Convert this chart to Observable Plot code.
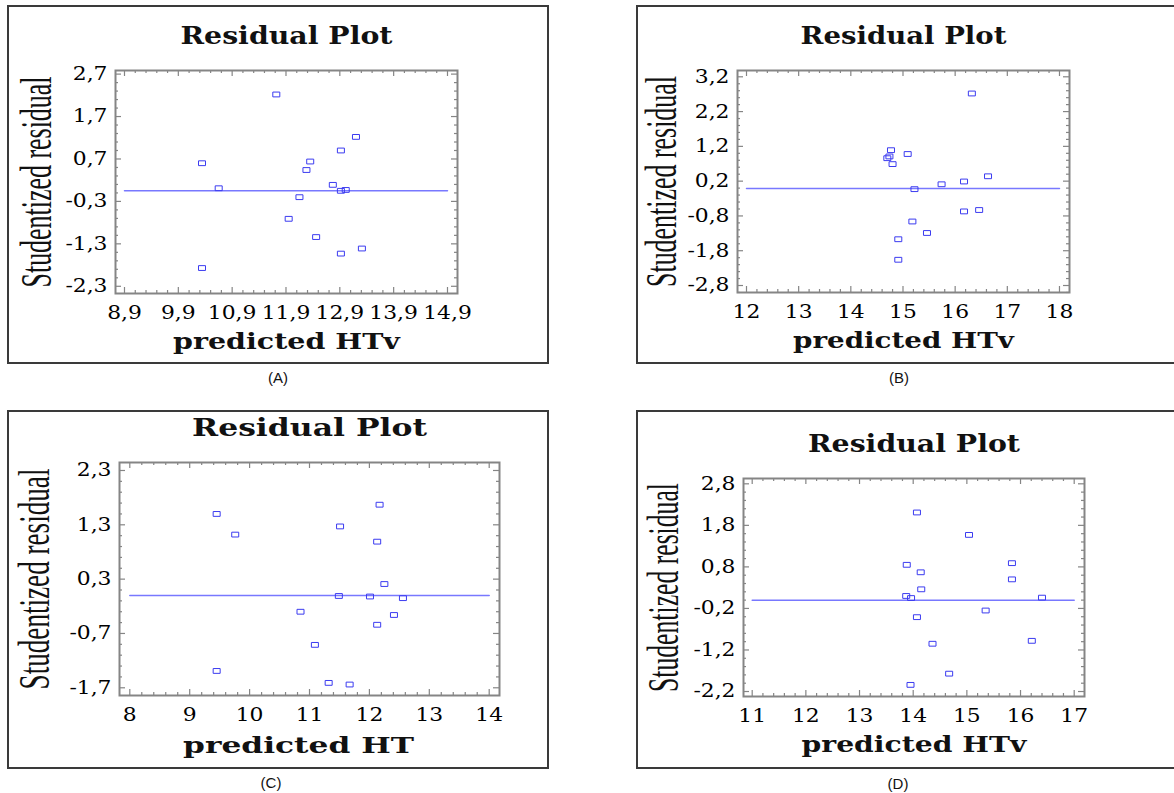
<!DOCTYPE html>
<html><head><meta charset="utf-8">
<script src="https://cdn.jsdelivr.net/npm/d3@7"></script>
<script src="https://cdn.jsdelivr.net/npm/@observablehq/plot@0.6"></script>
<style>
html,body{margin:0;padding:0;background:#fff;width:1174px;height:793px;overflow:hidden;position:relative}
.box{position:absolute;border:2px solid #3a3a3a;box-sizing:border-box}
.cap{position:absolute;font-family:"Liberation Sans",Arial,sans-serif;font-size:15px;color:#111;transform:translate(-50%,-50%);white-space:nowrap}
svg.panel{position:absolute;overflow:visible}
</style></head><body>
<script>
// ---------- data ----------
const titles = ["Residual Plot", "Residual Plot", "Residual Plot", "Residual Plot"];
const yLabel = "Studentized residual";
const xLabels = ["predicted HTv", "predicted HTv", "predicted HT", "predicted HTv"];
const captions = ["(A)", "(B)", "(C)", "(D)"];

const aX = [11.72, 13.20, 12.92, 10.34, 12.35, 12.28, 10.65, 12.77, 12.92, 13.01, 12.15, 11.95, 12.46, 13.31, 12.92, 10.34];
const aY = [2.22, 1.22, 0.90, 0.60, 0.64, 0.44, 0.01, 0.09, -0.05, -0.03, -0.20, -0.71, -1.14, -1.41, -1.53, -1.87];
const bX = [16.32, 14.77, 15.09, 14.74, 14.70, 14.80, 16.63, 16.17, 15.74, 15.22, 16.17, 16.46, 15.18, 15.46, 14.91, 14.91];
const bY = [2.72, 1.09, 0.98, 0.91, 0.86, 0.69, 0.34, 0.19, 0.11, -0.03, -0.67, -0.63, -0.96, -1.29, -1.47, -2.06];
const cX = [12.17, 9.45, 11.51, 9.76, 12.13, 12.25, 11.49, 12.01, 12.56, 10.85, 12.41, 12.13, 11.09, 9.45, 11.32, 11.67];
const cY = [1.67, 1.50, 1.27, 1.12, 0.99, 0.21, -0.01, -0.02, -0.05, -0.30, -0.36, -0.54, -0.91, -1.39, -1.61, -1.64];
const dX = [14.07, 15.04, 13.88, 15.84, 14.14, 15.84, 14.15, 13.87, 13.96, 16.40, 15.35, 14.07, 16.21, 14.36, 14.67, 13.95];
const dY = [2.11, 1.57, 0.85, 0.89, 0.67, 0.50, 0.26, 0.10, 0.05, 0.06, -0.25, -0.41, -0.98, -1.05, -1.77, -2.04];

const lineAX = [8.9, 14.9], lineAY = [-0.05, -0.05];
const lineBX = [12, 18],    lineBY = [-0.01, -0.01];
const lineCX = [8, 14],     lineCY = [0, 0];
const lineDX = [11, 17],    lineDY = [0, 0];

const aXTicks = [8.9, 9.9, 10.9, 11.9, 12.9, 13.9, 14.9];
const aYTicks = [-2.3, -1.3, -0.3, 0.7, 1.7, 2.7];
const bXTicks = [12, 13, 14, 15, 16, 17, 18];
const bYTicks = [-2.8, -1.8, -0.8, 0.2, 1.2, 2.2, 3.2];
const cXTicks = [8, 9, 10, 11, 12, 13, 14];
const cYTicks = [-1.7, -0.7, 0.3, 1.3, 2.3];
const dXTicks = [11, 12, 13, 14, 15, 16, 17];
const dYTicks = [-2.2, -1.2, -0.2, 0.8, 1.8, 2.8];

// ---------- layout / style ----------
const fmt1 = d => d.toFixed(1).replace(".", ",");
const fmt0 = d => String(d);
const BLUE_PT = "#3b3bf0", BLUE_LN = "#7878ff", FRAME = "#858585";
const rectSymbol = {draw(ctx) { ctx.moveTo(-3.5, -2.4); ctx.lineTo(3.5, -2.4); ctx.lineTo(3.5, 2.4); ctx.lineTo(-3.5, 2.4); ctx.closePath(); }};

const panels = [
  {xs: aX, ys: aY, lx: lineAX, ly: lineAY, xt: aXTicks, yt: aYTicks, xf: fmt1, title: titles[0], xl: xLabels[0], cap: captions[0],
   box: [7, 5, 542, 359], svgW: 542, m: [65, 92, 71, 108], xd: [8.733, 15.086], yd: [-2.47, 2.785],
   titleW: 212, xlW: 227, ylW: 211, ylDx: -65, xlDy: 55, xlDx: 0, capXY: [278, 377]},
  {xs: bX, ys: bY, lx: lineBX, ly: lineBY, xt: bXTicks, yt: bYTicks, xf: fmt0, title: titles[1], xl: xLabels[1], cap: captions[1],
   box: [636, 5, 600, 359], svgW: 538, m: [65, 105, 72, 101], xd: [11.8275, 18.192], yd: [-3.001, 3.381],
   titleW: 206, xlW: 221, ylW: 211, ylDx: -62, xlDy: 55, xlDx: 0, capXY: [899, 377]},
  {xs: cX, ys: cY, lx: lineCX, ly: lineCY, xt: cXTicks, yt: cYTicks, xf: fmt0, title: titles[2], xl: xLabels[2], cap: captions[2],
   box: [7, 410, 542, 359], svgW: 542, m: [52, 50, 74, 112], xd: [7.828, 14.172], yd: [-1.842, 2.447],
   titleW: 235, xlW: 231, ylW: 221, ylDx: -71, xlDy: 57, xlDx: -11, capXY: [271, 782]},
  {xs: dX, ys: dY, lx: lineDX, ly: lineDY, xt: dXTicks, yt: dYTicks, xf: fmt0, title: titles[3], xl: xLabels[3], cap: captions[3],
   box: [636, 410, 600, 359], svgW: 538, m: [68, 90, 73, 107], xd: [10.838, 17.192], yd: [-2.32, 2.928],
   titleW: 212, xlW: 225, ylW: 209, ylDx: -66, xlDy: 55, xlDx: 0, capXY: [898, 783]}
];

function minors(majors, dom, step) {
  const m0 = majors[0], out = [];
  const kmin = Math.ceil((dom[0] - m0) / step - 1e-9), kmax = Math.floor((dom[1] - m0) / step + 1e-9);
  for (let k = kmin; k <= kmax; k++) {
    if (k % 5 === 0) continue;
    out.push(+(m0 + k * step).toFixed(3));
  }
  return out;
}

for (const p of panels) {
  const [bx, by, bw, bh] = p.box;
  const box = document.createElement("div");
  box.className = "box";
  Object.assign(box.style, {left: bx + "px", top: by + "px", width: bw + "px", height: bh + "px"});
  document.body.appendChild(box);

  const [mt, mr, mb, ml] = p.m;
  const W = p.svgW, H = bh;
  const fw = W - ml - mr, fh = H - mt - mb;
  const MAJ = 6, MIN = 3;
  const xMin = minors(p.xt, p.xd, 0.2), yMin = minors(p.yt, p.yd, 0.2);
  const tickStyle = {stroke: FRAME, strokeWidth: 1.2};

  const svg = Plot.plot({
    width: W, height: H,
    marginTop: mt, marginRight: mr, marginBottom: mb, marginLeft: ml,
    style: {fontFamily: "'DejaVu Serif', serif", background: "transparent", color: "#111"},
    x: {domain: p.xd},
    y: {domain: p.yd},
    marks: [
      // inward tick marks on all four sides
      Plot.ruleX(p.xt, {x: d => d, insetTop: fh - MAJ, ...tickStyle}),
      Plot.ruleX(p.xt, {x: d => d, insetBottom: fh - MAJ, ...tickStyle}),
      Plot.ruleX(xMin, {x: d => d, insetTop: fh - MIN, ...tickStyle}),
      Plot.ruleX(xMin, {x: d => d, insetBottom: fh - MIN, ...tickStyle}),
      Plot.ruleY(p.yt, {y: d => d, insetRight: fw - MAJ, ...tickStyle}),
      Plot.ruleY(p.yt, {y: d => d, insetLeft: fw - MAJ, ...tickStyle}),
      Plot.ruleY(yMin, {y: d => d, insetRight: fw - MIN, ...tickStyle}),
      Plot.ruleY(yMin, {y: d => d, insetLeft: fw - MIN, ...tickStyle}),
      Plot.frame({stroke: FRAME, strokeWidth: 2}),
      Plot.axisX(p.xt, {anchor: "bottom", tickSize: 0, tickPadding: 12, tickFormat: p.xf, label: null,
        fontSize: 18.5, fontFamily: "DejaVu Serif", fill: "#000"}),
      Plot.axisY(p.yt, {anchor: "left", tickSize: 0, tickPadding: 8, tickFormat: fmt1, label: null,
        fontSize: 18.5, fontFamily: "DejaVu Serif", fill: "#000"}),
      Plot.line(p.lx, {x: p.lx, y: p.ly, stroke: BLUE_LN, strokeWidth: 1.5}),
      Plot.dot(p.xs, {x: p.xs, y: p.ys, symbol: rectSymbol, stroke: BLUE_PT, strokeWidth: 1, fill: "none"}),
      Plot.text([p.title], {frameAnchor: "top", dy: -27, lineAnchor: "bottom", textAnchor: "middle", text: d => d, fontSize: 24,
        fontWeight: "bold", fontFamily: "DejaVu Serif", fill: "#111"}),
      Plot.text([p.xl], {frameAnchor: "bottom", dy: p.xlDy, dx: p.xlDx, lineAnchor: "bottom", textAnchor: "middle", text: d => d, fontSize: 23,
        fontWeight: "bold", fontFamily: "DejaVu Serif", fill: "#111"}),
      Plot.text([yLabel], {frameAnchor: "left", dx: p.ylDx, rotate: -90, lineAnchor: "bottom", textAnchor: "middle", text: d => d, fontSize: 44,
        fontFamily: "'Liberation Serif', serif", fill: "#111"})
    ]
  });
  svg.classList.add("panel");
  Object.assign(svg.style, {left: bx + "px", top: by + "px"});
  document.body.appendChild(svg);

  // horizontal stretch / compression of each text along its own direction
  svg.querySelectorAll("text").forEach(t => {
    const s = t.textContent;
    const L = t.getComputedTextLength();
    if (!(L > 0)) return;
    let sx;
    if (s === p.title) sx = p.titleW / L;
    else if (s === p.xl) sx = p.xlW / L;
    else if (s === yLabel) sx = p.ylW / L;
    else sx = 1.18;
    const tr = t.getAttribute("transform") || "";
    t.setAttribute("transform", `${tr} scale(${sx},1)`.trim());
  });

  const cap = document.createElement("div");
  cap.className = "cap";
  cap.textContent = p.cap;
  Object.assign(cap.style, {left: p.capXY[0] + "px", top: p.capXY[1] + "px"});
  document.body.appendChild(cap);
}
</script>
</body></html>
